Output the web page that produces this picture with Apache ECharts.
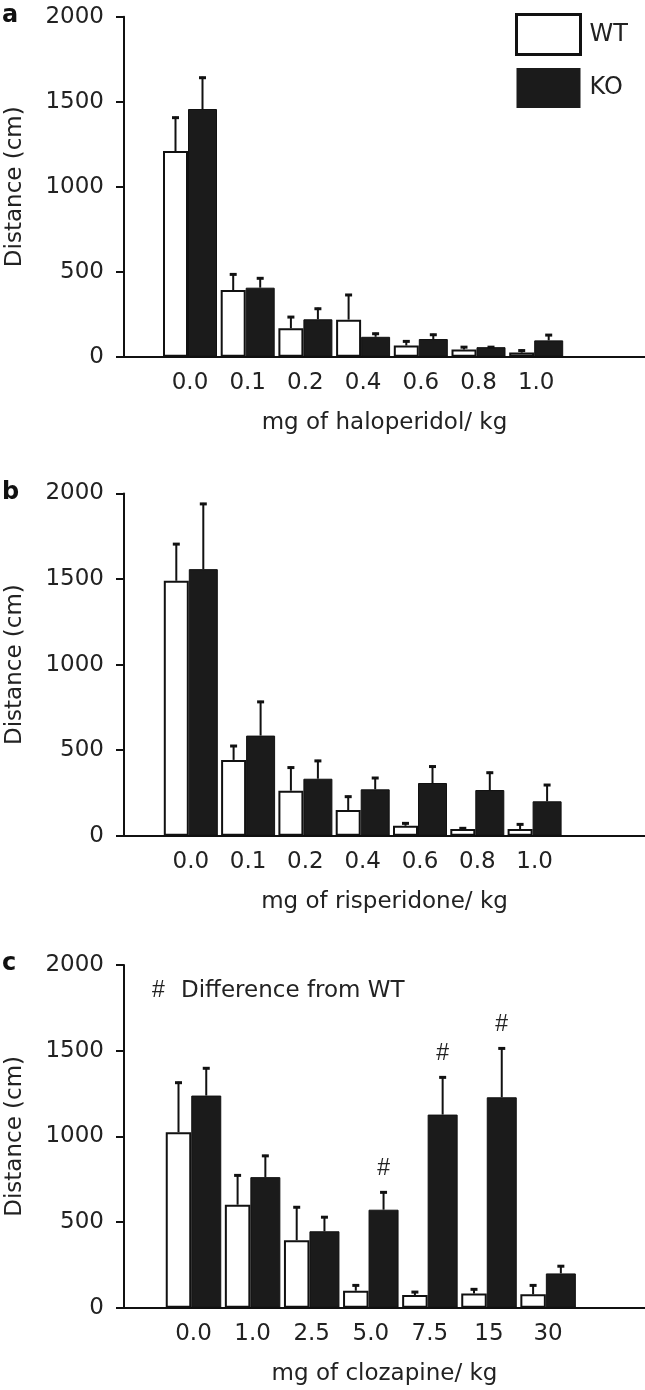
<!DOCTYPE html>
<html><head><meta charset="utf-8">
<script src="https://cdn.jsdelivr.net/npm/echarts@6/dist/echarts.min.js"></script>
<style>html,body{margin:0;padding:0;background:#fff}#chart{width:645px;height:1390px}</style>
</head><body><div id="chart"></div>
<script>
// ---- data ----
const dosesHalo = ['0.0','0.1','0.2','0.4','0.6','0.8','1.0'];
const wtHalo    = [1210, 392, 167, 218, 66, 43, 24];
const wtHaloSem = [202, 98, 72, 151, 30, 19, 18];
const koHalo    = [1457, 406, 220, 117, 104, 56, 96];
const koHaloSem = [190, 61, 68, 24, 31, 6, 37];

const dosesRisp = ['0.0','0.1','0.2','0.4','0.6','0.8','1.0'];
const wtRisp    = [1490, 443, 263, 150, 58, 39, 39];
const wtRispSem = [220, 87, 141, 84, 20, 10, 33];
const koRisp    = [1558, 585, 333, 271, 308, 267, 201];
const koRispSem = [387, 203, 110, 72, 102, 107, 101];

const dosesCloz = ['0.0','1.0','2.5','5.0','7.5','15','30'];
const wtCloz    = [1024, 601, 394, 99, 74, 83, 78];
const wtClozSem = [295, 177, 198, 37, 23, 30, 58];
const koCloz    = [1238, 762, 446, 572, 1127, 1228, 200];
const koClozSem = [165, 130, 88, 107, 223, 291, 48];
const koClozDiff = [false, false, false, true, true, true, false];

const yMin = 0, yMax = 2000, yStep = 500;
const yTitle = 'Distance (cm)';
const seriesNames = ['WT', 'KO'];

// ---- layout ----
const FONT = 'DejaVu Sans';
const INK = '#111';
const TXT = '#222';
const KOFILL = '#1b1b1b';

const panels = [
  {letter:'a', xTitle:'mg of haloperidol/ kg', cats:dosesHalo, wt:wtHalo, wtSem:wtHaloSem, ko:koHalo, koSem:koHaloSem, diff:null,
   top:16.7, height:340, barLeft:161.15, band:57.7, wW:25, wK:29},
  {letter:'b', xTitle:'mg of risperidone/ kg', cats:dosesRisp, wt:wtRisp, wtSem:wtRispSem, ko:koRisp, koSem:koRispSem, diff:null,
   top:493.5, height:342.2, barLeft:162.15, band:57.3, wW:25, wK:29},
  {letter:'c', xTitle:'mg of clozapine/ kg', cats:dosesCloz, wt:wtCloz, wtSem:wtClozSem, ko:koCloz, koSem:koClozSem, diff:koClozDiff,
   top:965, height:342.7, barLeft:163.95, band:59.1, wW:25.5, wK:30}
];

function errRender(offset, diff) {
  return function (params, api) {
    const i = api.value(0), m = api.value(1), s = api.value(2);
    const base = api.coord([i, m]);
    const top = api.coord([i, m + s]);
    const x = base[0] + offset;
    const children = [
      {type:'line', shape:{x1:x, y1:base[1], x2:x, y2:top[1]}, style:{stroke:INK, lineWidth:2}},
      {type:'line', shape:{x1:x-3.5, y1:top[1]+1, x2:x+3.5, y2:top[1]+1}, style:{stroke:INK, lineWidth:3}}
    ];
    if (diff && diff[i]) {
      children.push({type:'text', x:x, y:top[1]-11,
        style:{text:'#', fontFamily:'Liberation Sans', fontSize:23, fill:TXT, align:'center', verticalAlign:'bottom'}});
    }
    return {type:'group', children:children};
  };
}

const grid = [], xAxis = [], yAxis = [], series = [], graphic = [];
panels.forEach(function (p, k) {
  const gF = 2*k, gB = 2*k+1;
  grid.push({left:124, right:0, top:p.top, height:p.height, containLabel:false, outerBoundsMode:'none'});
  grid.push({left:p.barLeft, width:p.band*7, top:p.top, height:p.height, containLabel:false, outerBoundsMode:'none'});

  xAxis.push({gridIndex:gF, type:'value', min:0, max:1,
    axisLine:{show:true, onZero:false, lineStyle:{color:INK, width:2}},
    axisTick:{show:false}, axisLabel:{show:false}, splitLine:{show:false},
    name:p.xTitle, nameLocation:'middle', nameGap:55,
    nameTextStyle:{fontFamily:FONT, fontSize:23, color:TXT}});
  xAxis.push({gridIndex:gB, type:'category', data:p.cats,
    axisLine:{show:false}, axisTick:{show:false}, splitLine:{show:false},
    axisLabel:{fontFamily:FONT, fontSize:23, color:TXT, margin:15}});

  yAxis.push({gridIndex:gF, type:'value', min:yMin, max:yMax, interval:yStep,
    axisLine:{show:true, onZero:false, lineStyle:{color:INK, width:2}},
    axisTick:{show:true, length:8, lineStyle:{color:INK, width:2}},
    axisLabel:{fontFamily:FONT, fontSize:23, color:TXT, margin:20, formatter:function (v) { return String(v); }},
    splitLine:{show:false},
    name:yTitle, nameLocation:'middle', nameGap:97,
    nameTextStyle:{fontFamily:FONT, fontSize:23, color:TXT}});
  yAxis.push({gridIndex:gB, type:'value', min:yMin, max:yMax, show:false, splitLine:{show:false}});

  const tot = p.wW + p.wK;
  const offW = -tot/2 + p.wW/2;
  const offK = -tot/2 + p.wW + p.wK/2;

  series.push({type:'bar', name:seriesNames[0], xAxisIndex:gB, yAxisIndex:gB, data:p.wt,
    barWidth:p.wW, barGap:'0%', itemStyle:{color:'#ffffff', borderColor:INK, borderWidth:2}, animation:false});
  series.push({type:'bar', name:seriesNames[1], xAxisIndex:gB, yAxisIndex:gB, data:p.ko,
    barWidth:p.wK, barGap:'0%', itemStyle:{color:KOFILL, borderColor:INK, borderWidth:1}, animation:false});
  series.push({type:'custom', name:seriesNames[0]+' err', xAxisIndex:gB, yAxisIndex:gB,
    data:p.wt.map(function (v, j) { return [j, v, p.wtSem[j]]; }),
    encode:{x:0, y:1}, renderItem:errRender(offW, null), z:5, animation:false, silent:true});
  series.push({type:'custom', name:seriesNames[1]+' err', xAxisIndex:gB, yAxisIndex:gB,
    data:p.ko.map(function (v, j) { return [j, v, p.koSem[j]]; }),
    encode:{x:0, y:1}, renderItem:errRender(offK, p.diff), z:5, animation:false, silent:true});

  graphic.push({type:'text', x:2, y:p.top-1,
    style:{text:p.letter, fontFamily:FONT, fontWeight:'bold', fontSize:24, fill:INK, verticalAlign:'middle'}});
});

graphic.push({type:'text', x:152, y:991,
  style:{text:'#', fontFamily:'Liberation Sans', fontSize:23, fill:TXT, verticalAlign:'middle'}});
graphic.push({type:'text', x:181, y:991,
  style:{text:'Difference from WT', fontFamily:FONT, fontSize:23, fill:TXT, verticalAlign:'middle'}});

const chart = echarts.init(document.getElementById('chart'), null, {renderer:'canvas'});
chart.setOption({
  backgroundColor:'#ffffff',
  animation:false,
  grid:grid, xAxis:xAxis, yAxis:yAxis, series:series, graphic:graphic,
  legend:{left:515, top:13, padding:0, orient:'vertical', itemWidth:64, itemHeight:40, itemGap:12, selectedMode:false,
    data:[
      {name:seriesNames[0], icon:'rect', itemStyle:{color:'#ffffff', borderColor:INK, borderWidth:3}},
      {name:seriesNames[1], icon:'rect', itemStyle:{color:KOFILL, borderColor:KOFILL, borderWidth:0}}
    ],
    textStyle:{fontFamily:FONT, fontSize:24, color:TXT, padding:[0,0,0,4]}}
});
</script></body></html>
